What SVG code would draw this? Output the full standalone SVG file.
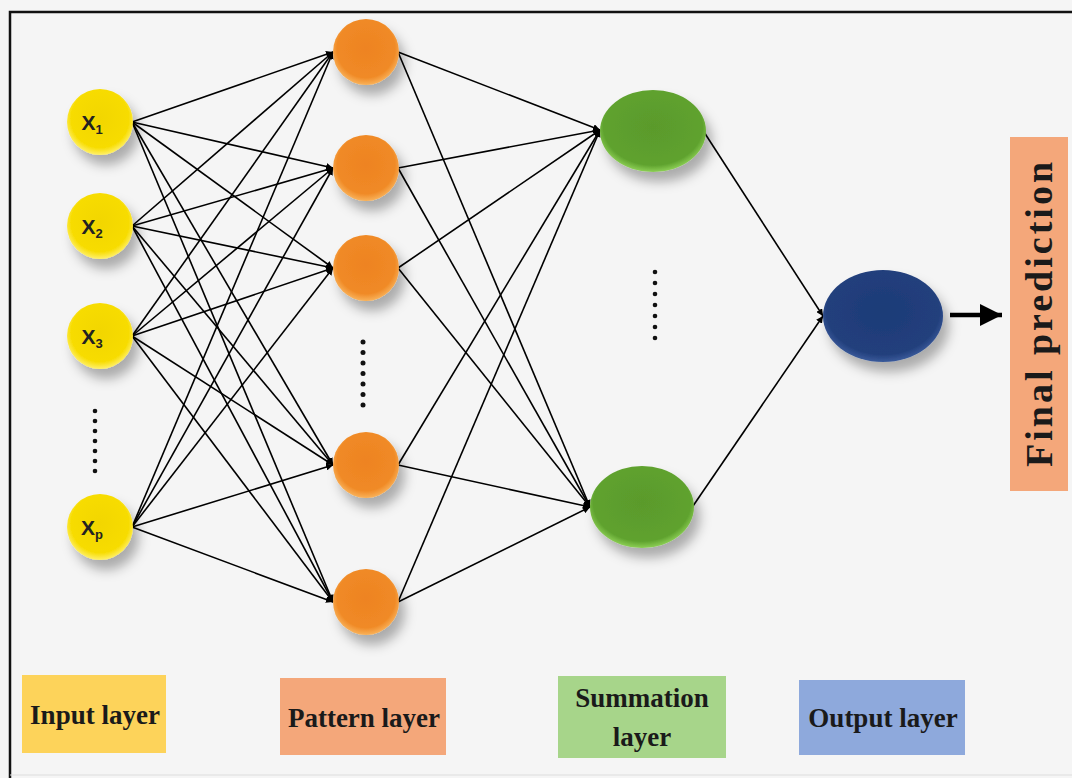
<svg xmlns="http://www.w3.org/2000/svg" width="1072" height="778" viewBox="0 0 1072 778">
<defs>
<radialGradient id="gy" cx="50%" cy="45%" r="55%"><stop offset="0" stop-color="#f2d600"/><stop offset="0.8" stop-color="#f7dc00"/><stop offset="1" stop-color="#fff06a"/></radialGradient>
<radialGradient id="go" cx="50%" cy="45%" r="55%"><stop offset="0" stop-color="#ee8322"/><stop offset="0.8" stop-color="#f08a26"/><stop offset="1" stop-color="#f9b25a"/></radialGradient>
<radialGradient id="gg" cx="50%" cy="45%" r="55%"><stop offset="0" stop-color="#5a9a2c"/><stop offset="0.85" stop-color="#5fa22e"/><stop offset="1" stop-color="#8ccf55"/></radialGradient>
<radialGradient id="gb" cx="50%" cy="45%" r="55%"><stop offset="0" stop-color="#1d3c78"/><stop offset="0.85" stop-color="#223f7c"/><stop offset="1" stop-color="#3a5a9a"/></radialGradient>
<filter id="sh" x="-30%" y="-30%" width="170%" height="180%"><feDropShadow dx="6" dy="10" stdDeviation="6" flood-color="#000" flood-opacity="0.3"/></filter>
<marker id="ah" viewBox="0 0 10 10" refX="10" refY="5" markerWidth="7" markerHeight="7" markerUnits="userSpaceOnUse" orient="auto"><path d="M0,0 L10,5 L0,10 z" fill="#000"/></marker>
<marker id="ahb" viewBox="0 0 10 10" refX="10" refY="5" markerWidth="5" markerHeight="5" orient="auto"><path d="M0,0 L10,5 L0,10 z" fill="#000"/></marker>
</defs>
<style>
.c{stroke:#000;stroke-width:1.6;fill:none;marker-end:url(#ah)}
.xl{font-family:"Liberation Sans",Arial,sans-serif;font-weight:bold;font-size:21px;fill:#222}
.xs{font-size:13px}
.lg{font-family:"Liberation Serif","Times New Roman",serif;font-size:27px;font-weight:bold;fill:#1a1a1a}
.fp{font-size:38px;letter-spacing:3px}
.dot{fill:#111}
</style>
<rect x="0" y="0" width="1072" height="778" fill="#f5f5f5"/>
<path d="M10,778 L10,12 L1072,12" stroke="#111" stroke-width="2.5" fill="none"/>
<path d="M10,775 L1072,775" stroke="#ddd" stroke-width="1" fill="none"/>

<g id="connectors">
<line class="c" x1="132" y1="122" x2="333" y2="52"/>
<line class="c" x1="132" y1="122" x2="333" y2="168"/>
<line class="c" x1="132" y1="122" x2="333" y2="268"/>
<line class="c" x1="132" y1="122" x2="333" y2="465"/>
<line class="c" x1="132" y1="122" x2="333" y2="602"/>
<line class="c" x1="132" y1="226" x2="333" y2="52"/>
<line class="c" x1="132" y1="226" x2="333" y2="168"/>
<line class="c" x1="132" y1="226" x2="333" y2="268"/>
<line class="c" x1="132" y1="226" x2="333" y2="465"/>
<line class="c" x1="132" y1="226" x2="333" y2="602"/>
<line class="c" x1="132" y1="336" x2="333" y2="52"/>
<line class="c" x1="132" y1="336" x2="333" y2="168"/>
<line class="c" x1="132" y1="336" x2="333" y2="268"/>
<line class="c" x1="132" y1="336" x2="333" y2="465"/>
<line class="c" x1="132" y1="336" x2="333" y2="602"/>
<line class="c" x1="132" y1="527" x2="333" y2="52"/>
<line class="c" x1="132" y1="527" x2="333" y2="168"/>
<line class="c" x1="132" y1="527" x2="333" y2="268"/>
<line class="c" x1="132" y1="527" x2="333" y2="465"/>
<line class="c" x1="132" y1="527" x2="333" y2="602"/>
<line class="c" x1="398" y1="52" x2="600" y2="130"/>
<line class="c" x1="398" y1="52" x2="590" y2="507"/>
<line class="c" x1="398" y1="168" x2="600" y2="130"/>
<line class="c" x1="398" y1="168" x2="590" y2="507"/>
<line class="c" x1="398" y1="268" x2="600" y2="130"/>
<line class="c" x1="398" y1="268" x2="590" y2="507"/>
<line class="c" x1="398" y1="465" x2="600" y2="130"/>
<line class="c" x1="398" y1="465" x2="590" y2="507"/>
<line class="c" x1="398" y1="602" x2="600" y2="130"/>
<line class="c" x1="398" y1="602" x2="590" y2="507"/>
<line class="c" x1="704" y1="132" x2="823" y2="316"/>
<line class="c" x1="693" y1="506" x2="823" y2="316"/>
<line x1="950" y1="315" x2="1002" y2="315" stroke="#000" stroke-width="4.5" marker-end="url(#ahb)"/>
</g>

<g id="input-x1"><circle cx="100" cy="122" r="33" fill="url(#gy)" filter="url(#sh)"/><text class="xl" x="92" y="130" text-anchor="middle">X<tspan class="xs" dy="4">1</tspan></text></g>
<g id="input-x2"><circle cx="100" cy="226" r="33" fill="url(#gy)" filter="url(#sh)"/><text class="xl" x="92" y="234" text-anchor="middle">X<tspan class="xs" dy="4">2</tspan></text></g>
<g id="input-x3"><circle cx="100" cy="336" r="33" fill="url(#gy)" filter="url(#sh)"/><text class="xl" x="92" y="344" text-anchor="middle">X<tspan class="xs" dy="4">3</tspan></text></g>
<g id="input-xp"><circle cx="100" cy="527" r="33" fill="url(#gy)" filter="url(#sh)"/><text class="xl" x="92" y="535" text-anchor="middle">X<tspan class="xs" dy="4">p</tspan></text></g>
<g id="input-dots"><circle class="dot" cx="95" cy="411" r="2.3"/><circle class="dot" cx="95" cy="421" r="2.3"/><circle class="dot" cx="95" cy="431" r="2.3"/><circle class="dot" cx="95" cy="441" r="2.3"/><circle class="dot" cx="95" cy="451" r="2.3"/><circle class="dot" cx="95" cy="461" r="2.3"/><circle class="dot" cx="95" cy="471" r="2.3"/></g>

<g id="pattern-1"><circle cx="366" cy="52" r="33" fill="url(#go)" filter="url(#sh)"/></g>
<g id="pattern-2"><circle cx="366" cy="168" r="33" fill="url(#go)" filter="url(#sh)"/></g>
<g id="pattern-3"><circle cx="366" cy="268" r="33" fill="url(#go)" filter="url(#sh)"/></g>
<g id="pattern-4"><circle cx="366" cy="465" r="33" fill="url(#go)" filter="url(#sh)"/></g>
<g id="pattern-5"><circle cx="366" cy="602" r="33" fill="url(#go)" filter="url(#sh)"/></g>
<g id="pattern-dots"><circle class="dot" cx="363" cy="342" r="2.5"/><circle class="dot" cx="363" cy="352.5" r="2.5"/><circle class="dot" cx="363" cy="363" r="2.5"/><circle class="dot" cx="363" cy="373.5" r="2.5"/><circle class="dot" cx="363" cy="384" r="2.5"/><circle class="dot" cx="363" cy="394.5" r="2.5"/><circle class="dot" cx="363" cy="405" r="2.5"/></g>

<g id="summation-1"><ellipse cx="653" cy="131" rx="53" ry="41" fill="url(#gg)" filter="url(#sh)"/></g>
<g id="summation-2"><ellipse cx="642" cy="507" rx="52" ry="41" fill="url(#gg)" filter="url(#sh)"/></g>
<g id="summation-dots"><circle class="dot" cx="655" cy="272" r="2.3"/><circle class="dot" cx="655" cy="283" r="2.3"/><circle class="dot" cx="655" cy="294" r="2.3"/><circle class="dot" cx="655" cy="305" r="2.3"/><circle class="dot" cx="655" cy="316" r="2.3"/><circle class="dot" cx="655" cy="327" r="2.3"/><circle class="dot" cx="655" cy="338" r="2.3"/></g>

<g id="output"><ellipse cx="883" cy="316" rx="60" ry="46" fill="url(#gb)" filter="url(#sh)"/></g>

<g id="final-prediction"><rect x="1010" y="137" width="58" height="354" fill="#f4a77a"/><text class="lg fp" transform="translate(1052,313) rotate(-90)" text-anchor="middle">Final prediction</text></g>

<g id="legend-input"><rect x="22" y="675" width="144" height="78" fill="#fdd35a"/><text class="lg" x="95" y="724" text-anchor="middle">Input layer</text></g>
<g id="legend-pattern"><rect x="280" y="678" width="166" height="77" fill="#f4a77a"/><text class="lg" x="364" y="727" text-anchor="middle">Pattern layer</text></g>
<g id="legend-summation"><rect x="558" y="676" width="168" height="82" fill="#a7d58a"/><text class="lg" x="642" y="707" text-anchor="middle">Summation</text><text class="lg" x="642" y="746" text-anchor="middle">layer</text></g>
<g id="legend-output"><rect x="799" y="680" width="166" height="75" fill="#8ea9dc"/><text class="lg" x="883" y="727" text-anchor="middle">Output layer</text></g>
</svg>
